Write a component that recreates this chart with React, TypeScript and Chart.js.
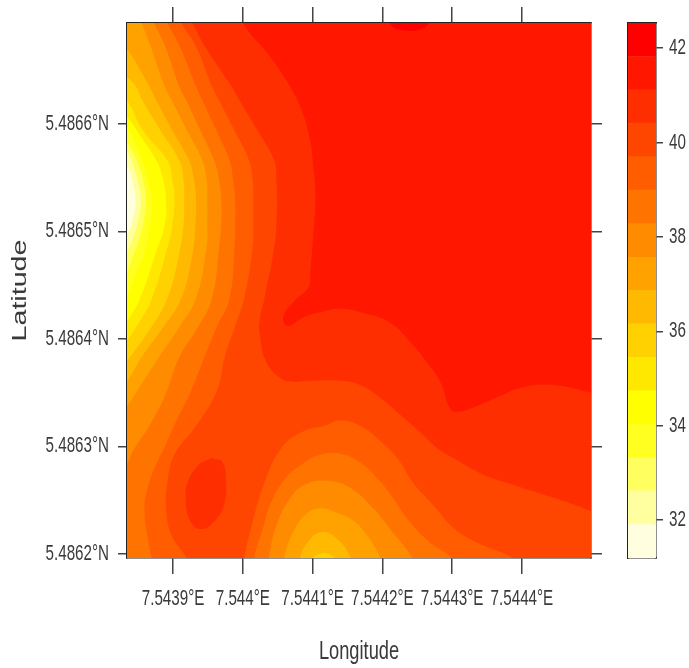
import React, { useEffect, useRef } from "react";
import { Chart, registerables } from "chart.js";

Chart.register(...registerables);

// Longitude and latitude of the contour vertices are micro-degrees from these origins.
const LON_ORIGIN = 7.5439;
const LAT_ORIGIN = 5.4866;

const lonTicks = [7.5439, 7.544, 7.5441, 7.5442, 7.5443, 7.5444];
const lonLabels = ["7.5439°E", "7.544°E", "7.5441°E", "7.5442°E", "7.5443°E", "7.5444°E"];
const latTicks = [5.4862, 5.4863, 5.4864, 5.4865, 5.4866];
const latLabels = ["5.4862°N", "5.4863°N", "5.4864°N", "5.4865°N", "5.4866°N"];
const barTicks = [32, 34, 36, 38, 40, 42];

const bandEdges = [31.2, 31.91, 32.62, 33.32, 34.03, 34.74, 35.45, 36.16, 36.87, 37.57, 38.28, 38.99, 39.7, 40.41, 41.12, 41.82, 42.53];
const bandColors = ["#FFFFDF", "#FFFF9F", "#FFFF60", "#FFFF20", "#FFFF00", "#FFE800", "#FFD100", "#FFB900", "#FFA200", "#FF8B00", "#FF7400", "#FF5D00", "#FF4600", "#FF2E00", "#FF1700", "#FF0000"];

const contour0 = [[-76, 102], [612, 102], [612, -411], [-76, -411]];
const contour1 = [[-76, -38], [-65, -41], [-57, -57], [-54, -71], [-57, -87], [-65, -101], [-76, -106], [-76, -411], [612, -411], [612, 102], [-76, 102]];
const contour2 = [[-76, -24], [-65, -27], [-54, -45], [-48, -60], [-46, -71], [-48, -84], [-54, -100], [-65, -117], [-76, -125], [-76, -411], [612, -411], [612, 102], [-76, 102]];
const contour3 = [[-76, -15], [-65, -18], [-50, -38], [-42, -55], [-39, -71], [-42, -90], [-50, -110], [-57, -122], [-65, -136], [-76, -145], [-76, -411], [612, -411], [612, 102], [-76, 102]];
const contour4 = [[-76, -1], [-65, -4], [-47, -29], [-36, -52], [-31, -71], [-33, -94], [-42, -122], [-54, -141], [-65, -159], [-76, -169], [-76, -411], [612, -411], [612, 102], [-76, 102]];
const contour5 = [[-76, 11], [-65, 6], [-48, -10], [-24, -34], [-14, -52], [-10, -71], [-12, -94], [-25, -120], [-47, -162], [-65, -183], [-76, -194], [-76, -411], [612, -411], [612, 102], [-76, 102]];
const contour6 = [[-76, 26], [-65, 21], [-43, -6], [-8, -34], [-1, -52], [2, -71], [-1, -94], [-8, -115], [-30, -162], [-47, -183], [-65, -201], [-76, -211], [-76, -411], [612, -411], [612, 102], [-76, 102]];
const contour7 = [[-76, 49], [-65, 43], [-53, 35], [-44, 22], [-18, -6], [9, -34], [15, -52], [16, -71], [15, -94], [9, -120], [-8, -162], [-32, -190], [-65, -220], [-76, -229], [-76, -411], [201, -411], [201, -404], [211, -400], [221, -400], [231, -404], [231, -411], [612, -411], [612, 102], [-76, 102]];
const contour8 = [[-76, 75], [-65, 69], [-34, 35], [-24, 22], [-1, -6], [23, -34], [30, -52], [33, -71], [32, -94], [28, -120], [12, -162], [-15, -190], [-45, -217], [-65, -239], [-76, -248], [-76, -411], [182, -411], [182, -404], [192, -390], [212, -380], [235, -386], [255, -404], [255, -411], [612, -411], [612, 102], [-76, 102]];
const contour9 = [[-50, 102], [-45, 94], [-32, 72], [-12, 35], [-2, 22], [20, -6], [42, -34], [48, -52], [49, -71], [49, -94], [48, -115], [33, -162], [8, -190], [-20, -217], [-51, -248], [-65, -262], [-76, -271], [-76, -411], [159, -411], [159, -404], [172, -380], [191, -363], [212, -358], [235, -362], [258, -369], [278, -383], [297, -404], [297, -411], [612, -411], [612, 102]];
const contour10 = [[-31, 102], [-27, 94], [-11, 72], [9, 35], [19, 22], [39, -6], [59, -34], [66, -52], [69, -71], [69, -94], [66, -115], [56, -162], [35, -190], [9, -217], [-11, -252], [-34, -281], [-57, -304], [-65, -315], [-76, -324], [-76, -411], [137, -411], [137, -404], [148, -374], [167, -349], [188, -336], [221, -332], [255, -339], [287, -358], [311, -377], [343, -404], [343, -411], [612, -411], [612, 102]];
const contour11 = [[-12, 102], [-8, 94], [10, 72], [33, 35], [42, 22], [62, -6], [81, -34], [86, -52], [89, -71], [89, -94], [88, -115], [81, -162], [62, -190], [45, -217], [26, -248], [5, -276], [-11, -299], [-27, -321], [-38, -343], [-41, -358], [-37, -383], [-31, -404], [-31, -411], [116, -411], [116, -404], [128, -378], [142, -350], [161, -330], [182, -318], [211, -308], [240, -307], [268, -315], [293, -330], [316, -349], [340, -371], [369, -390], [400, -404], [404, -411], [612, -411], [612, 102]];
const contour12 = [[8, 102], [12, 94], [33, 72], [56, 35], [66, 22], [88, -6], [109, -34], [114, -52], [115, -71], [115, -94], [114, -115], [102, -162], [88, -190], [74, -217], [63, -248], [33, -281], [2, -308], [-8, -334], [-10, -358], [-2, -383], [19, -404], [19, -411], [102, -411], [102, -404], [114, -371], [131, -334], [155, -302], [184, -287], [217, -281], [240, -276], [268, -281], [297, -295], [321, -311], [344, -334], [373, -355], [402, -376], [440, -391], [487, -404], [490, -411], [612, -411], [612, 102]];
const contour13 = [[23, 102], [28, 94], [46, 72], [84, 35], [95, 22], [121, -6], [145, -34], [148, -52], [149, -71], [148, -94], [145, -115], [131, -162], [124, -183], [124, -195], [134, -222], [155, -237], [171, -240], [197, -239], [240, -239], [268, -243], [297, -255], [326, -271], [354, -287], [379, -302], [402, -311], [440, -325], [483, -335], [526, -344], [565, -352], [598, -360], [612, -364], [612, 102]];
const contour13Eye = [[55, -311], [71, -315], [76, -334], [74, -352], [63, -367], [42, -377], [26, -371], [18, -349], [23, -330], [38, -316]];
const contour14 = [[96, 102], [105, 89], [135, 66], [159, 44], [178, 22], [194, -8], [202, -46], [204, -71], [201, -102], [197, -136], [194, -152], [175, -164], [158, -179], [164, -188], [190, -179], [218, -174], [240, -172], [273, -176], [311, -185], [340, -203], [364, -222], [383, -240], [397, -265], [407, -268], [430, -264], [469, -253], [502, -245], [545, -243], [598, -250], [612, -253], [612, 102]];
const contour15 = [[308, 102], [314, 91], [333, 87], [354, 88], [366, 93], [369, 102]];

// Painted in this order, lowest level first; each holds the ground at or above its level.
const contours = [
  { color: 0, pts: contour0 }, { color: 1, pts: contour1 }, { color: 2, pts: contour2 }, { color: 3, pts: contour3 },
  { color: 4, pts: contour4 }, { color: 5, pts: contour5 }, { color: 6, pts: contour6 }, { color: 7, pts: contour7 },
  { color: 8, pts: contour8 }, { color: 9, pts: contour9 }, { color: 10, pts: contour10 }, { color: 11, pts: contour11 },
  { color: 12, pts: contour12 }, { color: 13, pts: contour13 }, { color: 13, pts: contour13Eye }, { color: 14, pts: contour14 },
  { color: 15, pts: contour15 },
];

const LABEL_FONT = "'Liberation Sans', Arial, sans-serif";
const INK = "#3a3a3a";
const FRAME = "#222222";

// The reference picture is squeezed sideways, so its text is narrow and tall.
function textWidthFactor(text: string) {
  if (text === "Latitude") return 1.43;
  if (text === "Longitude") return 0.73;
  return 0.69;
}

const squeezeText = {
  id: "squeezeText",
  beforeDraw(chart: any) {
    const ctx = chart.ctx;
    if (ctx.__squeezed) return;
    const original = ctx.fillText.bind(ctx);
    ctx.fillText = (text: string, x: number, y: number) => {
      const factor = textWidthFactor(String(text));
      ctx.save();
      ctx.scale(factor, 1);
      original(text, x / factor, y);
      ctx.restore();
    };
    ctx.__squeezed = true;
  },
};

function fixSize(width: number | null, height: number | null) {
  return (scale: any) => {
    if (width !== null) scale.width = width;
    if (height !== null) scale.height = height;
  };
}

const mainScale = (extra: any) => ({
  type: "linear",
  border: { display: true, color: FRAME, width: 1.5 },
  ...extra,
  grid: { drawOnChartArea: false, color: "#444444", lineWidth: 1.5, ...extra.grid },
});

export default function App() {
  const mapRef = useRef<HTMLCanvasElement>(null);
  const barRef = useRef<HTMLCanvasElement>(null);

  useEffect(() => {
    const lonRange = { min: 7.543834, max: 7.544499 };
    const latRange = { min: 5.486196, max: 5.486694 };
    const setLon = (axis: any) => { axis.ticks = lonTicks.map((value) => ({ value })); };
    const setLat = (axis: any) => { axis.ticks = latTicks.map((value) => ({ value })); };

    const map = new Chart(mapRef.current as HTMLCanvasElement, {
      type: "scatter",
      plugins: [squeezeText],
      data: {
        datasets: contours.map((c, i) => ({
          label: `level ${i}`,
          data: c.pts.map(([dx, dy]) => ({ x: LON_ORIGIN + dx * 1e-6, y: LAT_ORIGIN + dy * 1e-6 })),
          showLine: true,
          fill: "shape",
          tension: 0.45,
          capBezierPoints: false,
          borderWidth: 0,
          pointRadius: 0,
          backgroundColor: bandColors[c.color],
          borderColor: bandColors[c.color],
          order: contours.length - i,
          xAxisID: "x",
          yAxisID: "y",
        })),
      } as any,
      options: {
        animation: false,
        responsive: false,
        devicePixelRatio: 1,
        layout: { padding: 0 },
        plugins: { legend: { display: false }, tooltip: { enabled: false } },
        scales: {
          x: mainScale({
            position: "bottom", ...lonRange, afterBuildTicks: setLon, afterFit: fixSize(null, 110),
            grid: { tickLength: 16 },
            ticks: { autoSkip: false, maxRotation: 0, padding: 12, color: INK, font: { family: LABEL_FONT, size: 22 }, callback: (_v: any, i: number) => lonLabels[i] },
            title: { display: true, text: "Longitude", color: INK, padding: { top: 0, bottom: 1 }, font: { family: LABEL_FONT, size: 25 } },
          }),
          xTop: mainScale({
            position: "top", ...lonRange, afterBuildTicks: setLon, afterFit: fixSize(null, 23),
            grid: { tickLength: 16 }, ticks: { display: false },
          }),
          y: mainScale({
            position: "left", ...latRange, afterBuildTicks: setLat, afterFit: fixSize(127, null),
            grid: { tickLength: 9 },
            ticks: { autoSkip: false, padding: 9, color: INK, font: { family: LABEL_FONT, size: 22 }, callback: (_v: any, i: number) => latLabels[i] },
            title: { display: true, text: "Latitude", color: INK, padding: { top: 8, bottom: 0 }, font: { family: LABEL_FONT, size: 20 } },
          }),
          yRight: mainScale({
            position: "right", ...latRange, afterBuildTicks: setLat, afterFit: fixSize(19, null),
            grid: { tickLength: 11 }, ticks: { display: false },
          }),
        },
      } as any,
    });

    const bar = new Chart(barRef.current as HTMLCanvasElement, {
      type: "bar",
      plugins: [squeezeText],
      data: {
        labels: ["level"],
        datasets: bandColors.map((color, i) => ({
          label: `band ${i}`,
          data: [[bandEdges[i], bandEdges[i + 1]]],
          backgroundColor: color,
          borderWidth: 0,
          categoryPercentage: 1,
          barPercentage: 1,
          grouped: false,
          xAxisID: "x",
          yAxisID: "y",
        })),
      } as any,
      options: {
        animation: false,
        responsive: false,
        devicePixelRatio: 1,
        plugins: { legend: { display: false }, tooltip: { enabled: false } },
        scales: {
          x: {
            position: "bottom", afterFit: fixSize(null, 110),
            border: { display: true, color: FRAME, width: 1.5 },
            grid: { display: false }, ticks: { display: false },
          },
          xTop: {
            type: "category", labels: ["level"], position: "top", afterFit: fixSize(null, 23),
            border: { display: true, color: FRAME, width: 1.5 },
            grid: { display: false }, ticks: { display: false },
          },
          y: {
            type: "linear", position: "right", min: 31.2, max: 42.53,
            afterBuildTicks: (axis: any) => { axis.ticks = barTicks.map((value) => ({ value })); },
            afterFit: fixSize(33, null),
            border: { display: true, color: FRAME, width: 1.5 },
            grid: { drawOnChartArea: false, color: "#444444", lineWidth: 1.5, tickLength: 7 },
            ticks: { autoSkip: false, padding: 6, color: INK, font: { family: LABEL_FONT, size: 22 } },
          },
          yLeft: {
            type: "linear", position: "left", min: 31.2, max: 42.53, afterFit: fixSize(18, null),
            border: { display: true, color: FRAME, width: 1.5 },
            grid: { display: false }, ticks: { display: false },
          },
        },
      } as any,
    });

    return () => {
      map.destroy();
      bar.destroy();
    };
  }, []);

  return (
    <div style={{ position: "absolute", left: 0, top: 0, width: 689, height: 668, background: "#fff", overflow: "hidden" }}>
      <canvas ref={mapRef} width={610} height={668} style={{ position: "absolute", left: 0, top: 0, display: "block" }} />
      <canvas ref={barRef} width={79} height={668} style={{ position: "absolute", left: 610, top: 0, display: "block" }} />
    </div>
  );
}
